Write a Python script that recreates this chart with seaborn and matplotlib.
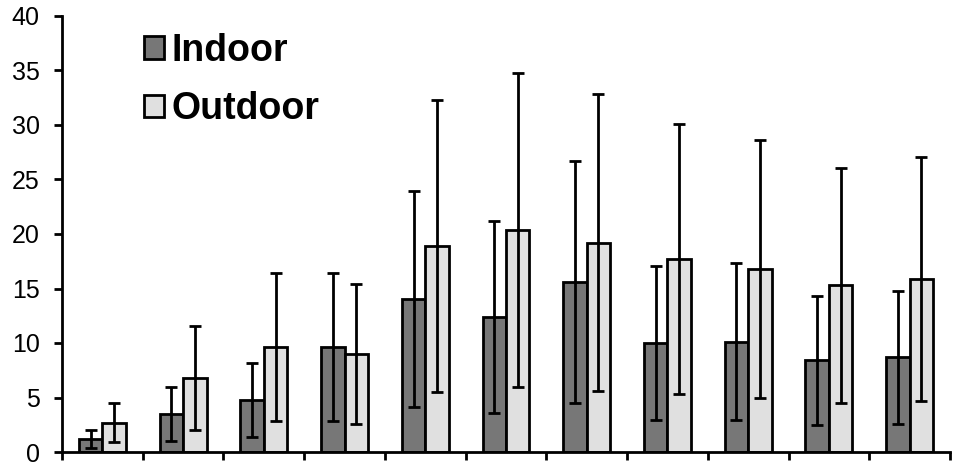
import numpy as np
import pandas as pd
import matplotlib
matplotlib.use('Agg')
import matplotlib.pyplot as plt
import seaborn as sns

# Means and standard deviations
groups = [str(i) for i in range(1, 12)]
indoor_mean = [1.2, 3.5, 4.8, 9.6, 14.0, 12.4, 15.6, 10.0, 10.1, 8.4, 8.7]
indoor_sd = [0.8, 2.5, 3.4, 6.8, 9.9, 8.8, 11.1, 7.1, 7.2, 5.9, 6.1]
outdoor_mean = [2.7, 6.8, 9.6, 9.0, 18.9, 20.4, 19.2, 17.7, 16.8, 15.3, 15.9]
outdoor_sd = [1.8, 4.8, 6.8, 6.4, 13.4, 14.4, 13.6, 12.4, 11.8, 10.8, 11.2]

df = pd.DataFrame({
    'group': groups * 2,
    'place': ['Indoor'] * 11 + ['Outdoor'] * 11,
    'mean': indoor_mean + outdoor_mean,
    'sd': indoor_sd + outdoor_sd,
})

sns.set_style('ticks')
plt.rcParams['font.family'] = ['Liberation Sans', 'DejaVu Sans']
plt.rcParams['text.color'] = 'black'

lw = 2.0

fig = plt.figure(figsize=(9.58, 4.62), dpi=100)
ax = fig.add_axes([62 / 958, 10 / 462, 888 / 958, 436 / 462])

sns.barplot(data=df, x='group', y='mean', hue='place',
            palette=['#777777', '#e0e0e0'], width=0.58,
            edgecolor='black', linewidth=lw, errorbar=None, ax=ax)

# error bars at the centres of the bars seaborn drew
for cont, sd in zip(ax.containers, [indoor_sd, outdoor_sd]):
    xs = [p.get_x() + p.get_width() / 2 for p in cont.patches]
    ys = [p.get_height() for p in cont.patches]
    ax.errorbar(xs, ys, yerr=sd, fmt='none', ecolor='black',
                elinewidth=lw, capsize=4.5, capthick=lw, zorder=5)

ax.set_xlim(-0.5, 10.5)
ax.set_ylim(0, 40)
ax.set_yticks(range(0, 41, 5))
ax.set_xticks(np.arange(-0.5, 11, 1))
ax.set_xticklabels([])
ax.set_xlabel('')
ax.set_ylabel('')
ax.tick_params(axis='both', length=6, width=lw, color='black', direction='out')
ax.tick_params(axis='y', labelsize=18, pad=10, labelcolor='black')
for s in ['left', 'bottom']:
    ax.spines[s].set_linewidth(lw)
    ax.spines[s].set_color('black')
sns.despine(ax=ax)

leg = ax.legend(loc='upper left', bbox_to_anchor=(0.092, 0.962), frameon=False,
                prop={'size': 27, 'weight': 'bold'}, handlelength=0.55,
                handleheight=0.55, handletextpad=0.2, labelspacing=0.6,
                borderpad=0, borderaxespad=0)
for h in leg.legend_handles:
    h.set_edgecolor('black')
    h.set_linewidth(lw)
for t in leg.get_texts():
    t.set_color('black')

fig.savefig('out.png', dpi=100)
